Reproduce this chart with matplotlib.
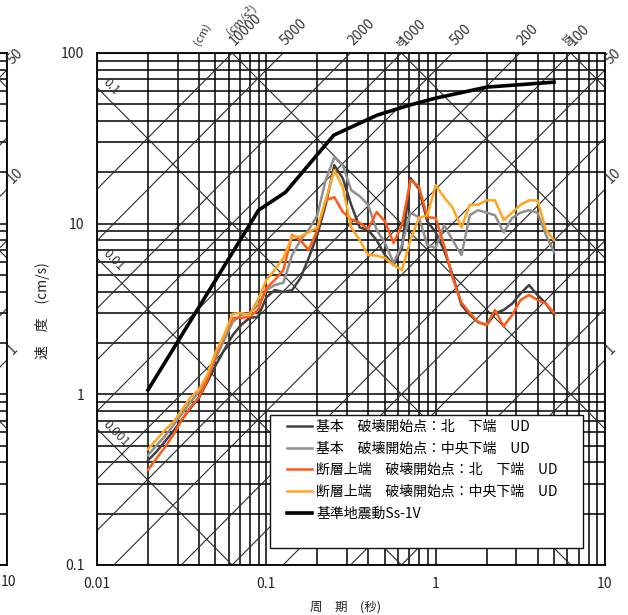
import numpy as np
import matplotlib
matplotlib.use("Agg")
import matplotlib.pyplot as plt
from matplotlib.ticker import FixedLocator, FixedFormatter, LogLocator, NullFormatter
from matplotlib.patches import Rectangle

plt.rcParams['font.family'] = ['Noto Sans CJK JP', 'DejaVu Sans']

# ---------------- data ----------------
periods = [0.02, 0.0224, 0.0252, 0.0283, 0.0317, 0.0356, 0.0399, 0.0448, 0.0502, 0.0564,
           0.0632, 0.0710, 0.0796, 0.0893, 0.100, 0.112, 0.126, 0.142, 0.159, 0.178,
           0.200, 0.224, 0.252, 0.283, 0.317, 0.356, 0.399, 0.448, 0.502, 0.564,
           0.632, 0.710, 0.796, 0.893, 1.00, 1.12, 1.26, 1.42, 1.59, 1.78,
           2.00, 2.24, 2.52, 2.83, 3.17, 3.56, 3.99, 4.48, 5.0]

v_kihon_kita = [0.41, 0.46, 0.53, 0.61, 0.71, 0.83, 0.95, 1.18, 1.48, 1.82,
                2.22, 2.55, 2.8, 2.85, 3.7, 4.08, 3.98, 4.08, 4.8, 6.3,
                8.6, 12.9, 22.0, 18.4, 12.9, 9.5, 9.2, 8.0, 6.55, 5.72,
                7.2, 18.5, 16.0, 10.3, 8.9, 7.0, 5.0, 3.34, 2.92, 2.65,
                2.55, 2.98, 3.12, 3.4, 3.9, 4.37, 3.82, 3.4, 2.92]

v_kihon_chuo = [0.44, 0.50, 0.57, 0.66, 0.77, 0.90, 1.03, 1.24, 1.63, 2.08,
                2.65, 2.92, 2.98, 3.34, 4.08, 4.37, 4.5, 6.55, 8.0, 9.2,
                11.2, 18.0, 24.5, 22.0, 15.7, 14.5, 12.9, 9.2, 7.7, 5.9,
                7.5, 11.6, 10.9, 7.5, 7.2, 9.8, 8.0, 6.55, 11.2, 12.0,
                11.6, 11.2, 8.9, 10.8, 11.6, 12.0, 11.6, 8.6, 6.8]

v_dansou_kita = [0.36, 0.42, 0.49, 0.58, 0.71, 0.84, 0.96, 1.21, 1.70, 2.22,
                 2.8, 2.8, 2.85, 3.12, 4.2, 4.67, 5.35, 8.57, 8.0, 7.0,
                 9.17, 13.7, 14.3, 11.7, 10.6, 10.1, 9.3, 11.7, 10.3, 7.7,
                 9.8, 18.0, 16.5, 10.9, 10.8, 7.5, 4.8, 3.45, 3.0, 2.65,
                 2.55, 3.12, 2.5, 2.92, 3.57, 3.82, 3.57, 3.4, 3.0]

v_dansou_chuo = [0.478, 0.54, 0.618, 0.69, 0.81, 0.96, 1.06, 1.30, 1.77, 2.22,
                 2.96, 3.0, 2.92, 3.6, 4.67, 5.35, 6.3, 8.4, 8.4, 8.9,
                 9.5, 13.7, 20.6, 16.3, 9.5, 8.0, 6.55, 6.5, 6.3, 5.72,
                 5.35, 8.0, 10.8, 11.2, 16.8, 14.3, 12.4, 9.5, 12.9, 12.9,
                 13.7, 13.7, 10.5, 11.6, 12.9, 13.7, 13.7, 9.2, 8.0]

ss_periods = [0.02, 0.09, 0.13, 0.25, 0.45, 0.70, 1.0, 2.0, 5.0]
ss_velocity = [1.06, 12.0, 15.3, 33.0, 43.2, 49.5, 54.4, 63.1, 67.5]

legend_labels = ['基本　破壊開始点：北　下端　UD',
                 '基本　破壊開始点：中央下端　UD',
                 '断層上端　破壊開始点：北　下端　UD',
                 '断層上端　破壊開始点：中央下端　UD',
                 '基準地震動Ss-1V']

disp_lines = [0.001, 0.01, 0.1, 1, 10, 100]
acc_lines = [1, 2, 5, 10, 20, 50, 100, 200, 500, 1000, 2000, 5000, 10000]
acc_top_labels = [10000, 5000, 2000, 1000, 500, 200, 100]
acc_right_labels = [50, 10, 1]
disp_left_labels = ['0.1', '0.01', '0.001']
disp_left_values = [0.1, 0.01, 0.001]
disp_top_values = [10, 100]

x_ticks = [0.01, 0.1, 1, 10]
x_ticklabels = ['0.01', '0.1', '1', '10']
y_ticks = [0.1, 1, 10, 100]
y_ticklabels = ['0.1', '1', '10', '100']

colors = ['#404040', '#8f8f8f', '#ff5b17', '#ffa51f', '#000000']
widths = [1.8, 1.8, 1.8, 1.8, 2.6]

# ---------------- figure ----------------
W, H = 628, 615
fig = plt.figure(figsize=(W / 100, H / 100), dpi=100)


def rect(l, t, r, b):
    return [l / W, 1 - b / H, (r - l) / W, (b - t) / H]


TWO_PI = 2 * np.pi
TXT = '#333333'


def draw_frame(ax, ticklabels=True):
    ax.set_xscale('log')
    ax.set_yscale('log')
    ax.set_xlim(0.01, 10)
    ax.set_ylim(0.1, 100)
    ax.xaxis.set_major_locator(FixedLocator(x_ticks))
    ax.yaxis.set_major_locator(FixedLocator(y_ticks))
    if ticklabels:
        ax.xaxis.set_major_formatter(FixedFormatter(x_ticklabels))
        ax.yaxis.set_major_formatter(FixedFormatter(y_ticklabels))
    else:
        ax.xaxis.set_major_formatter(NullFormatter())
        ax.yaxis.set_major_formatter(NullFormatter())
    ax.xaxis.set_minor_locator(LogLocator(base=10, subs=np.arange(2, 10)))
    ax.yaxis.set_minor_locator(LogLocator(base=10, subs=np.arange(2, 10)))
    ax.xaxis.set_minor_formatter(NullFormatter())
    ax.yaxis.set_minor_formatter(NullFormatter())
    ax.tick_params(which='both', length=0, labelsize=10, labelcolor='#222222')
    ax.tick_params(axis='x', pad=9)
    ax.tick_params(axis='y', pad=9)
    ax.grid(which='both', color='#000000', lw=1.1)
    for s in ax.spines.values():
        s.set_linewidth(1.3)
        s.set_color('#000000')
    tt = np.array([0.01, 10.0])
    for d in disp_lines:
        ax.plot(tt, TWO_PI * d / tt, color='#2a2a2a', lw=0.8, zorder=1.6)
    for a in acc_lines:
        ax.plot(tt, a * tt / TWO_PI, color='#2a2a2a', lw=0.8, zorder=1.6)
    # acceleration labels on the right edge
    for a in acc_right_labels:
        ax.annotate(str(a), xy=(10, a * 10 / TWO_PI), xytext=(8, 3),
                    textcoords='offset pixels', rotation=45, rotation_mode='anchor',
                    ha='left', va='bottom', fontsize=10, color=TXT,
                    annotation_clip=False)


# left-hand remnant of neighbouring chart
ax_prev = fig.add_axes(rect(7 - 508, 53, 7, 565))
draw_frame(ax_prev, ticklabels=False)
fig.text(0.5 / W, 1 - 582 / H, x_ticklabels[-1], ha='left', va='center',
         fontsize=10, color='#222222')

ax = fig.add_axes(rect(97, 53, 605, 565))
draw_frame(ax)

# top acceleration labels
for a in acc_top_labels:
    t_top = TWO_PI * 100 / a
    ax.annotate(str(a), xy=(t_top, 100), xytext=(5, 5), textcoords='offset pixels',
                rotation=45, rotation_mode='anchor', ha='left', va='bottom',
                fontsize=10, color=TXT, annotation_clip=False)
# top displacement labels (small)
for d in disp_top_values:
    t_top = TWO_PI * d / 100
    ax.annotate(str(d), xy=(t_top, 100), xytext=(-3, 4), textcoords='offset pixels',
                rotation=-45, rotation_mode='anchor', ha='right', va='bottom',
                fontsize=6, color=TXT, annotation_clip=False)
# left displacement labels
for lab, d in zip(disp_left_labels, disp_left_values):
    ax.annotate(lab, xy=(0.01, TWO_PI * d / 0.01), xytext=(3, 2),
                textcoords='offset pixels', rotation=-45, rotation_mode='anchor',
                ha='left', va='bottom', fontsize=9, color=TXT, annotation_clip=False)

# unit labels
fig.text(232 / W, 1 - 37 / H, '(cm/s²)', rotation=45, rotation_mode='anchor',
         ha='left', va='bottom', fontsize=8, color=TXT)
fig.text(201 / W, 1 - 47 / H, '(cm)', rotation=60, rotation_mode='anchor',
         ha='left', va='bottom', fontsize=8, color=TXT)

# curves
series = [v_kihon_kita, v_kihon_chuo, v_dansou_kita, v_dansou_chuo]
handles = []
for vals, c, w, lab in zip(series, colors[:4], widths[:4], legend_labels[:4]):
    h, = ax.plot(periods, vals, color=c, lw=w, zorder=3, label=lab,
                 solid_joinstyle='round')
    handles.append(h)
h, = ax.plot(ss_periods, ss_velocity, color=colors[4], lw=widths[4], zorder=3.5,
             label=legend_labels[4])
handles.append(h)

# legend box
x0, x1 = (270 - 97) / 508, (583 - 97) / 508
y0, y1 = (565 - 548) / 512, (565 - 415) / 512
ax.add_patch(Rectangle((x0, y0), x1 - x0, y1 - y0, transform=ax.transAxes,
                       facecolor='white', edgecolor='#111111', lw=1.0, zorder=4.5))
leg = ax.legend(handles=handles, loc='upper left',
                bbox_to_anchor=((287 - 97) / 508, (565 - 420) / 512),
                frameon=False, fontsize=10, handlelength=1.8, handletextpad=0.3,
                labelspacing=0.55, borderpad=0, borderaxespad=0)
leg.set_zorder(5)

# axis titles
fig.text(345 / W, 1 - 607 / H, '周　期　(秒)', ha='center', va='center',
         fontsize=9, color='#222222')
fig.text(43 / W, 1 - 311 / H, '速　度　(cm/s)', rotation=90, ha='center',
         va='center', fontsize=10, color='#222222')

fig.savefig('out.png', dpi=100)
